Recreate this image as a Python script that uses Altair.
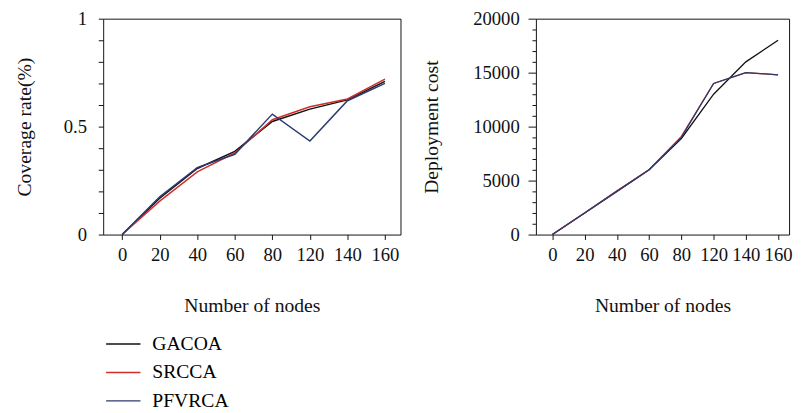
import altair as alt
import pandas as pd

nodes = ["0", "20", "40", "60", "80", "120", "140", "160"]
series = ["GACOA", "SRCCA", "PFVRCA"]
colors = ["#111111", "#cf2f2a", "#2c3a72"]

cov_gacoa = [0.0, 0.168, 0.306, 0.385, 0.524, 0.581, 0.624, 0.71]
cov_srcca = [0.0, 0.155, 0.29, 0.378, 0.532, 0.592, 0.628, 0.72]
cov_pfvrca = [0.0, 0.175, 0.31, 0.372, 0.558, 0.433, 0.62, 0.70]

cost_gacoa = [0, 2000, 4000, 6000, 8900, 13000, 16000, 18000]
cost_srcca = [0, 2000, 4050, 6000, 9100, 14000, 15000, 14800]
cost_pfvrca = [0, 2000, 4000, 6000, 9000, 14000, 15000, 14800]

cov_ticks = [0, 0.1, 0.2, 0.3, 0.4, 0.5, 0.6, 0.7, 0.8, 0.9, 1.0]
cost_ticks = list(range(0, 20001, 1000))

rows_cov = []
rows_cost = []
for name, cv, cs in zip(series, [cov_gacoa, cov_srcca, cov_pfvrca], [cost_gacoa, cost_srcca, cost_pfvrca]):
    for n, a, b in zip(nodes, cv, cs):
        rows_cov.append({"nodes": n, "value": a, "algo": name})
        rows_cost.append({"nodes": n, "value": b, "algo": name})
df_cov = pd.DataFrame(rows_cov)
df_cost = pd.DataFrame(rows_cost)

FONT = "Liberation Serif"

color_scale = alt.Scale(domain=series, range=colors)

x_axis = alt.Axis(labelAngle=0, tickSize=5, labelPadding=6, titlePadding=32,
                  title="Number of nodes", domain=False)

left = alt.Chart(df_cov).mark_line(strokeWidth=1.5).encode(
    x=alt.X("nodes:O", sort=nodes,
            scale=alt.Scale(type="point", padding=0.46, align=0.55),
            axis=x_axis),
    y=alt.Y("value:Q", scale=alt.Scale(domain=[0, 1], nice=False),
            axis=alt.Axis(values=cov_ticks, format="~g",
                          labelExpr="datum.value == 0 || datum.value == 0.5 || datum.value == 1 ? datum.label : ''",
                          tickSize=5, labelPadding=12, titlePadding=29,
                          title="Coverage rate(%)", domain=False)),
    color=alt.Color("algo:N", scale=color_scale, sort=series,
                    legend=alt.Legend(title=None, orient="none", legendX=2, legendY=313,
                                      symbolType="stroke", symbolSize=1225,
                                      symbolStrokeWidth=1.5, labelFontSize=20,
                                      labelFont=FONT, labelOffset=11, rowPadding=-8,
                                      direction="vertical")),
).properties(width=303, height=220)

right = alt.Chart(df_cost).mark_line(strokeWidth=1.3).encode(
    x=alt.X("nodes:O", sort=nodes,
            scale=alt.Scale(type="point", padding=0.426, align=0.6),
            axis=x_axis),
    y=alt.Y("value:Q", scale=alt.Scale(domain=[0, 20000], nice=False),
            axis=alt.Axis(values=cost_ticks, format="d",
                          labelExpr="datum.value % 5000 == 0 ? datum.label : ''",
                          tickSize={"condition": {"test": "datum.value % 5000 == 0", "value": 8}, "value": 4},
                          labelPadding=9, titlePadding=32,
                          title="Deployment cost", domain=False)),
    color=alt.Color("algo:N", scale=color_scale, sort=series, legend=None),
).properties(width=258, height=220)

chart = alt.hconcat(left, right, spacing=20).resolve_scale(color="shared").configure(
    padding={"left": 6, "top": -3, "right": 0, "bottom": 0},
).configure_view(
    stroke="#111111", strokeWidth=1
).configure_axis(
    labelFont=FONT, titleFont=FONT, labelFontSize=19, titleFontSize=20,
    titleFontWeight="normal", labelColor="#111111", titleColor="#111111",
    tickColor="#111111", grid=False
)

chart.save("out.html", embed_options={"renderer": "svg", "actions": False})
